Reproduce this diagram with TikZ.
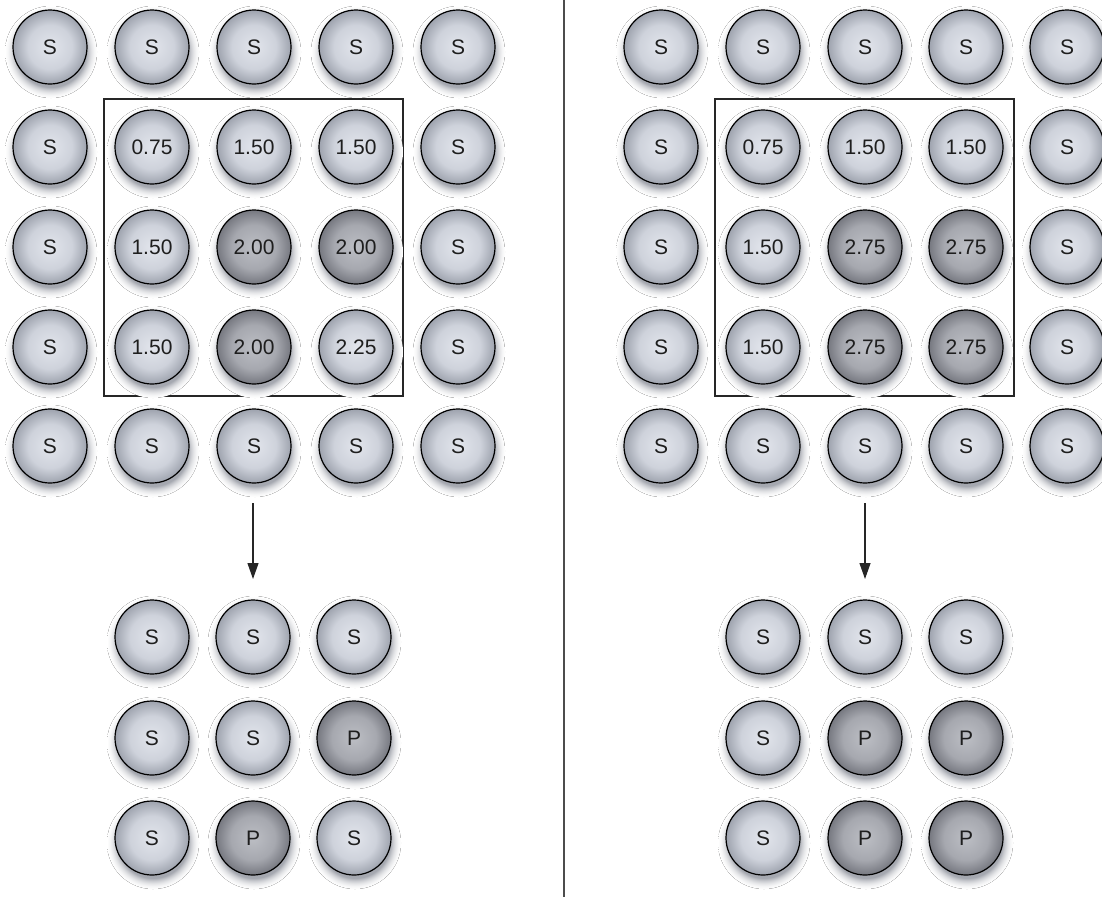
\documentclass[tikz,border=0pt]{standalone}
\usepackage{fontspec}
\setmainfont{Liberation Sans}
\usetikzlibrary{arrows.meta}
\definecolor{haloc}{RGB}{165,168,176}
\definecolor{lA}{RGB}{226,229,236}
\definecolor{lB}{RGB}{206,210,219}
\definecolor{lC}{RGB}{158,163,174}
\definecolor{dA}{RGB}{188,190,196}
\definecolor{dB}{RGB}{166,168,175}
\definecolor{dC}{RGB}{118,120,128}
\definecolor{ink}{RGB}{30,30,30}
\pgfdeclareradialshading{halo}{\pgfpoint{0bp}{0bp}}{color(0bp)=(haloc); color(19bp)=(haloc); color(20.5bp)=(haloc!60!white); color(22bp)=(haloc!30!white); color(23.5bp)=(haloc!10!white); color(25bp)=(white); color(50bp)=(white)}
\pgfdeclareradialshading{balllight}{\pgfpoint{0bp}{0bp}}{color(0bp)=(lA); color(15bp)=(lB); color(25bp)=(lC); color(50bp)=(lC)}
\pgfdeclareradialshading{balldark}{\pgfpoint{0bp}{0bp}}{color(0bp)=(dA); color(15bp)=(dB); color(25bp)=(dC); color(50bp)=(dC)}
\tikzset{
  ball/.style={circle, draw=black, line width=1.2pt, minimum size=74pt, inner sep=0pt,
    shading=balllight, text=ink, font=\fontsize{21}{23}\selectfont},
  lt/.style={ball},
  dk/.style={ball, shading=balldark},
  frame/.style={draw=black!85, line width=1.4pt},
  divider/.style={draw=black!70, line width=1.4pt},
  arr/.style={draw=black!85, line width=1.2pt, -{Triangle[length=16pt,width=11pt]}}
}
\newcommand\ball[5]{%
  \fill[shading=halo] (#3+1,#4+5) circle (46);
  \node[#1] (#2) at (#3,#4) {#5};
}
\begin{document}
\begin{tikzpicture}[x=1pt,y=-1pt]
\useasboundingbox (0,0) rectangle (1102,897);
% frames
\draw[frame] (104,99) rectangle (403,396);
\draw[frame] (715,99) rectangle (1014,396);
% divider
\draw[divider] (564,0) -- (564,897);
% left top grid
\ball{lt}{L11}{50}{47}{S}\ball{lt}{L12}{152}{47}{S}\ball{lt}{L13}{254}{47}{S}\ball{lt}{L14}{356}{47}{S}\ball{lt}{L15}{458}{47}{S}
\ball{lt}{L21}{50}{147}{S}\ball{lt}{L22}{152}{147}{0.75}\ball{lt}{L23}{254}{147}{1.50}\ball{lt}{L24}{356}{147}{1.50}\ball{lt}{L25}{458}{147}{S}
\ball{lt}{L31}{50}{247}{S}\ball{lt}{L32}{152}{247}{1.50}\ball{dk}{L33}{254}{247}{2.00}\ball{dk}{L34}{356}{247}{2.00}\ball{lt}{L35}{458}{247}{S}
\ball{lt}{L41}{50}{347}{S}\ball{lt}{L42}{152}{347}{1.50}\ball{dk}{L43}{254}{347}{2.00}\ball{lt}{L44}{356}{347}{2.25}\ball{lt}{L45}{458}{347}{S}
\ball{lt}{L51}{50}{446}{S}\ball{lt}{L52}{152}{446}{S}\ball{lt}{L53}{254}{446}{S}\ball{lt}{L54}{356}{446}{S}\ball{lt}{L55}{458}{446}{S}
% right top grid
\ball{lt}{R11}{661}{47}{S}\ball{lt}{R12}{763}{47}{S}\ball{lt}{R13}{865}{47}{S}\ball{lt}{R14}{966}{47}{S}\ball{lt}{R15}{1067}{47}{S}
\ball{lt}{R21}{661}{147}{S}\ball{lt}{R22}{763}{147}{0.75}\ball{lt}{R23}{865}{147}{1.50}\ball{lt}{R24}{966}{147}{1.50}\ball{lt}{R25}{1067}{147}{S}
\ball{lt}{R31}{661}{247}{S}\ball{lt}{R32}{763}{247}{1.50}\ball{dk}{R33}{865}{247}{2.75}\ball{dk}{R34}{966}{247}{2.75}\ball{lt}{R35}{1067}{247}{S}
\ball{lt}{R41}{661}{347}{S}\ball{lt}{R42}{763}{347}{1.50}\ball{dk}{R43}{865}{347}{2.75}\ball{dk}{R44}{966}{347}{2.75}\ball{lt}{R45}{1067}{347}{S}
\ball{lt}{R51}{661}{446}{S}\ball{lt}{R52}{763}{446}{S}\ball{lt}{R53}{865}{446}{S}\ball{lt}{R54}{966}{446}{S}\ball{lt}{R55}{1067}{446}{S}
% bottom left grid
\ball{lt}{BL11}{152}{637}{S}\ball{lt}{BL12}{253}{637}{S}\ball{lt}{BL13}{354}{637}{S}
\ball{lt}{BL21}{152}{738}{S}\ball{lt}{BL22}{253}{738}{S}\ball{dk}{BL23}{354}{738}{P}
\ball{lt}{BL31}{152}{838}{S}\ball{dk}{BL32}{253}{838}{P}\ball{lt}{BL33}{354}{838}{S}
% bottom right grid
\ball{lt}{BR11}{763}{637}{S}\ball{lt}{BR12}{865}{637}{S}\ball{lt}{BR13}{966}{637}{S}
\ball{lt}{BR21}{763}{738}{S}\ball{dk}{BR22}{865}{738}{P}\ball{dk}{BR23}{966}{738}{P}
\ball{lt}{BR31}{763}{838}{S}\ball{dk}{BR32}{865}{838}{P}\ball{dk}{BR33}{966}{838}{P}
% arrows
\coordinate (la) at (253,503);
\coordinate (lb) at (253,579);
\coordinate (ra) at (865,503);
\coordinate (rb) at (865,579);
\draw[arr] (la) -- (lb);
\draw[arr] (ra) -- (rb);
\end{tikzpicture}
\end{document}
